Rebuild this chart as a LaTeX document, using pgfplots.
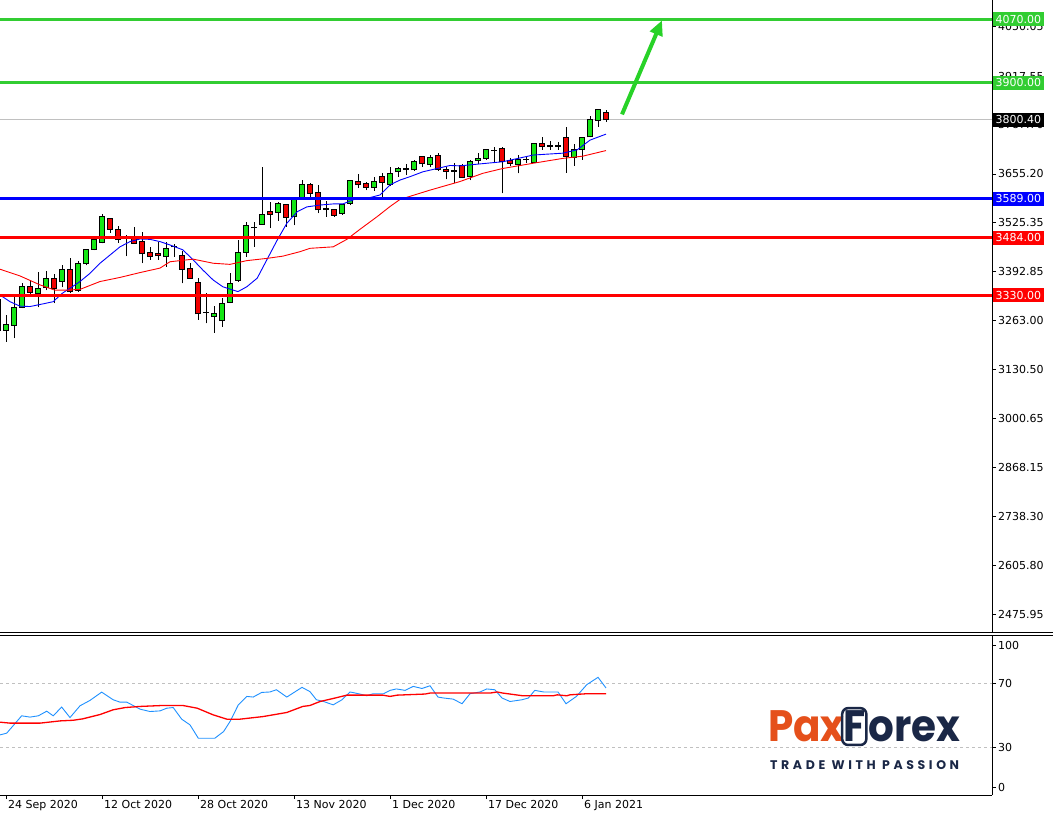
\documentclass[border=0pt]{standalone}
\usepackage{fontspec}
\setmainfont{DejaVu Sans}
\newfontfamily\logofont{Poppins}
\newfontfamily\tagfont{Poppins}[LetterSpace=29]
\usepackage{graphicx}
\usepackage{pgfplots}
\usepackage{pgfplotstable}
\pgfplotsset{compat=1.18}
\usetikzlibrary{arrows.meta}
\definecolor{lvlgreen}{RGB}{50,205,50}
\definecolor{cgreen}{RGB}{20,230,20}
\definecolor{cred}{RGB}{240,0,0}
\definecolor{rsiblue}{RGB}{30,144,255}
\definecolor{silver}{RGB}{192,192,192}
\definecolor{pxorange}{RGB}{229,80,27}
\definecolor{pxnavy}{RGB}{26,39,70}
\definecolor{arrowgreen}{RGB}{40,210,40}
\newcommand\axfont{\fontsize{11bp}{13bp}\selectfont}
\pgfplotsset{candle/.style={forget plot, only marks, mark size=0pt, mark options={draw=none, fill=none},
  error bars/.cd, y dir=plus, y explicit, error mark=none}}

% green (bullish) candles: index open high low close
\pgfplotstableread{
i o h l c
0 3237 3277 3206 3253
1 3250 3325 3215 3298
2 3298 3363 3296 3355
4 3336 3393 3298 3347
5 3350 3395 3344 3376
7 3367 3411 3352 3400
9 3343 3423 3340 3416
10 3414 3455 3410 3453
11 3453 3489 3451 3480
12 3471 3548 3469 3541
20 3434 3474 3407 3456
26 3273 3301 3230 3282
27 3262 3322 3246 3307
28 3311 3389 3309 3362
29 3370 3478 3367 3445
30 3445 3527 3434 3516
32 3520 3675 3520 3547
34 3553 3581 3530 3577
36 3541 3590 3518 3586
37 3590 3639 3588 3628
42 3550 3576 3546 3574
43 3577 3640 3572 3639
46 3620 3648 3610 3635
48 3627 3675 3623 3657
49 3661 3675 3648 3670
51 3666 3692 3664 3688
53 3681 3706 3673 3700
58 3648 3693 3639 3690
59 3691 3711 3682 3697
60 3697 3722 3694 3720
64 3681 3706 3657 3693
66 3687 3738 3686 3736
71 3700 3736 3677 3722
72 3722 3755 3693 3753
73 3755 3811 3753 3800
74 3798 3829 3782 3829
}\gc
% red (bearish) candles
\pgfplotstableread{
i o h l c
-1 3318 3322 3206 3237
3 3355 3371 3331 3338
6 3376 3387 3309 3347
8 3400 3429 3335 3340
13 3536 3538 3498 3507
14 3507 3517 3471 3480
16 3482 3514 3468 3470
17 3474 3501 3416 3441
18 3444 3459 3425 3435
19 3443 3474 3425 3436
22 3438 3450 3362 3400
23 3403 3416 3376 3376
24 3364 3376 3264 3280
33 3556 3581 3510 3547
35 3574 3576 3514 3539
38 3628 3630 3590 3603
39 3606 3626 3550 3559
41 3559 3560 3540 3545
44 3636 3655 3617 3627
45 3630 3635 3612 3620
47 3648 3657 3590 3632
52 3702 3703 3675 3682
54 3704 3712 3664 3668
55 3668 3675 3641 3662
57 3679 3682 3644 3646
62 3724 3728 3603 3688
63 3691 3697 3676 3684
67 3736 3753 3720 3730
70 3753 3780 3659 3703
75 3821 3827 3795 3800.4
}\rc
% doji candles
\pgfplotstableread{
i o h l c
15 3482 3492 3435 3484
21 3460 3468 3434 3461
25 3284 3337 3255 3285
31 3511 3527 3460 3512
40 3561 3584 3541 3562
50 3668 3682 3652 3669
56 3663 3684 3630 3664
61 3718 3728 3684 3719
65 3693 3703 3685 3694
68 3730 3744 3720 3731
69 3730 3740 3720 3731
}\dc

\begin{document}
\begin{tikzpicture}
\begin{axis}[
  at={(0,180bp)}, anchor=south west, scale only axis,
  width=992bp, height=633bp,
  xmin=-0.75, xmax=123.25, ymin=2425.08, ymax=4121.52,
  axis x line=none, axis y line*=right,
  axis line style={black, line width=1bp, -},
  ytick={2475.95,2605.80,2738.30,2868.15,3000.65,3130.50,3263.00,3392.85,3525.35,3655.20,3787.70,3917.55,4050.05},
  yticklabels={2475.95,2605.80,2738.30,2868.15,3000.65,3130.50,3263.00,3392.85,3525.35,3655.20,3787.70,3917.55,4050.05},
  tick align=outside, major tick length=4bp,
  ytick style={black, line width=0.8bp},
  yticklabel style={font=\axfont, anchor=west, inner sep=0pt, xshift=2bp},
  clip mode=individual,
]
% current price line
\addplot[silver, line width=0.8bp] coordinates {(-0.75,3800.4) (123.25,3800.4)};
% wicks
\addplot[candle, error bar style={black, line width=1bp}]
  table[x=i, y=l, y error plus expr=\thisrow{h}-\thisrow{l}] {\gc};
\addplot[candle, error bar style={black, line width=1bp}]
  table[x=i, y=l, y error plus expr=\thisrow{h}-\thisrow{l}] {\rc};
\addplot[candle, error bar style={black, line width=1bp}]
  table[x=i, y=l, y error plus expr=\thisrow{h}-\thisrow{l}] {\dc};
% body outlines
\addplot[candle, error bar style={black, line width=6bp}]
  table[x=i, y expr=\thisrow{o}-1.34, y error plus expr=\thisrow{c}-\thisrow{o}+2.68] {\gc};
\addplot[candle, error bar style={black, line width=6bp}]
  table[x=i, y expr=\thisrow{c}-1.34, y error plus expr=\thisrow{o}-\thisrow{c}+2.68] {\rc};
\addplot[candle, error bar style={black, line width=6bp}]
  table[x=i, y expr=\thisrow{o}-1.34, y error plus expr=\thisrow{c}-\thisrow{o}+2.68] {\dc};
% body fills
\addplot[candle, error bar style={cgreen, line width=4bp}]
  table[x=i, y expr=\thisrow{o}+1.34, y error plus expr=\thisrow{c}-\thisrow{o}-2.68] {\gc};
\addplot[candle, error bar style={cred, line width=4bp}]
  table[x=i, y expr=\thisrow{c}+1.34, y error plus expr=\thisrow{o}-\thisrow{c}-2.68] {\rc};
% moving averages
\addplot[blue, line width=0.9bp] coordinates {
(-0.75,3331) (0.5,3313) (1.75,3301) (3,3300) (4.6,3307) (5.9,3313) (7,3335) (8,3349)
(9.25,3367) (10.5,3389) (11.75,3416) (13,3438) (14.25,3460) (15.5,3474) (16.75,3481)
(18,3480) (19.25,3474) (20.5,3465) (22.1,3452) (23.4,3425) (24.6,3398) (25.9,3371)
(27.1,3353) (28.4,3344) (29,3340) (30.1,3353) (31.4,3376) (32.6,3425) (33.9,3478)
(35.1,3523) (36.4,3554) (37.6,3567) (39.25,3572) (40.9,3575) (42.1,3575) (43.9,3590)
(45.5,3592) (46.75,3599) (48,3626) (49.25,3639) (50.5,3648) (52.1,3661) (53.9,3670)
(55.5,3678) (56.75,3677) (60.1,3684) (62.1,3688) (65.9,3706) (69.6,3711) (71.4,3720)
(73,3746) (75,3762)};
\addplot[red, line width=0.9bp] coordinates {
(-0.75,3400) (1.75,3382) (4.25,3358) (6.1,3344) (7.6,3344) (9.25,3346) (11.75,3367)
(14.25,3378) (16.75,3391) (19.25,3403) (20.5,3420) (23.4,3427) (25.9,3416) (28,3413)
(30.1,3423) (32.6,3429) (34.6,3435) (36.75,3447) (38,3456) (40.9,3460) (42.6,3480)
(44.25,3507) (46.4,3541) (48,3568) (49.25,3587) (53,3612) (56.75,3635) (59.6,3657)
(62.1,3670) (65.9,3684) (69.6,3697) (72.1,3703) (75,3718)};
% levels
\addplot[lvlgreen, line width=3bp] coordinates {(-0.75,4070) (123.25,4070)};
\addplot[lvlgreen, line width=3bp] coordinates {(-0.75,3900) (123.25,3900)};
\addplot[blue, line width=3.5bp] coordinates {(-0.75,3589) (123.25,3589)};
\addplot[red, line width=3bp] coordinates {(-0.75,3484) (123.25,3484)};
\addplot[red, line width=3bp] coordinates {(-0.75,3330) (123.25,3330)};
% arrow
\draw[arrowgreen, line width=4bp, -{Triangle[length=15bp, width=13bp]}] (axis cs:77,3815) -- (axis cs:82,4067);
\coordinate (L1) at ({rel axis cs:1,0} |- {axis cs:0,4070});
\coordinate (L2) at ({rel axis cs:1,0} |- {axis cs:0,3900});
\coordinate (L3) at ({rel axis cs:1,0} |- {axis cs:0,3800.4});
\coordinate (L4) at ({rel axis cs:1,0} |- {axis cs:0,3589});
\coordinate (L5) at ({rel axis cs:1,0} |- {axis cs:0,3484});
\coordinate (L6) at ({rel axis cs:1,0} |- {axis cs:0,3330});
\end{axis}

\begin{axis}[
  at={(0,18bp)}, anchor=south west, scale only axis,
  width=992bp, height=159bp,
  xmin=-0.75, xmax=123.25, ymin=0, ymax=100,
  axis x line*=bottom, axis y line*=right,
  axis line style={black, line width=1bp, -},
  xtick={0,12,24,36,48,60,72},
  xticklabels={24 Sep 2020,12 Oct 2020,28 Oct 2020,13 Nov 2020,1 Dec 2020,17 Dec 2020,6 Jan 2021},
  ytick={5,30,70,94}, yticklabels={0,30,70,100},
  tick align=outside, major tick length=4bp,
  tick style={black, line width=0.8bp},
  xticklabel style={font=\axfont, anchor=north west, inner sep=0pt, xshift=2bp, yshift=-1bp},
  yticklabel style={font=\axfont, anchor=west, inner sep=0pt, xshift=2bp},
  clip mode=individual,
]
\addplot[silver, line width=0.8bp, dash pattern=on 3bp off 3bp] coordinates {(-0.75,70) (123.25,70)};
\addplot[silver, line width=0.8bp, dash pattern=on 3bp off 3bp] coordinates {(-0.75,30) (123.25,30)};
\addplot[rsiblue, line width=0.9bp] coordinates {
(-0.75,37.8) (0.09,38.9) (1.96,49.8) (3,49.0) (4.04,49.8) (5.09,52.7) (5.9,49.8) (6.96,55.3)
(8,48.7) (9.25,56.1) (10.5,59.5) (11.96,64.7) (13.4,59.9) (14.25,58.4) (15.1,58.4)
(16.75,54.0) (18,52.5) (19.25,52.9) (20.1,54.6) (20.9,55.0) (21.96,47.7) (23,44.1)
(24.04,35.7) (26.1,35.7) (27.2,39.9) (28,46.2) (29.04,56.7) (30.1,62.0) (30.9,61.6)
(31.96,64.5) (33,64.8) (33.8,66.2) (35.1,61.6) (37,67.7) (38,65.0) (38.8,59.9)
(39.7,58.8) (40.9,56.7) (42,59.9) (43,64.8) (44.25,63.5) (45.1,62.4) (45.9,63.7)
(47.2,63.7) (48,65.8) (48.8,66.7) (49.9,65.8) (50.9,68.3) (52,67.0) (53,68.7)
(54,61.6) (54.7,61.0) (55.9,60.3) (57,57.4) (58,63.7) (59.25,64.8) (60.1,66.7)
(61.1,66.2) (62,61.0) (63,58.8) (64.5,59.9) (65.3,61.0) (66.1,65.8) (67.2,64.8)
(69,64.8) (70,57.4) (71.3,62.0) (72.6,69.4) (74,74.0) (75,67.3)};
\addplot[red, line width=1.3bp] coordinates {
(-0.75,45.8) (0.5,45.2) (4.25,45.2) (6.75,46.6) (8.4,47.0) (9.6,47.9) (11.75,50.6)
(13.4,53.6) (14.9,55.0) (16.75,55.7) (19.6,56.3) (22.1,56.3) (23.9,54.6) (25.9,50.4)
(27.6,47.7) (29.25,47.7) (32.1,49.3) (35.1,51.9) (37.1,55.7) (38,56.3) (39.25,58.8)
(40.9,60.7) (42.6,62.8) (47.1,62.8) (48,62.0) (48.9,62.8) (52.4,63.5) (53,64.1)
(60.5,64.1) (61.4,64.8) (62.1,64.1) (63,63.5) (64.6,62.4) (68.4,62.4) (68.9,63.0)
(70.1,62.4) (70.5,63.0) (72.6,63.7) (75,63.7)};
\end{axis}

% panel separator
\draw[black, line width=1bp] (0,180bp) -- (1053bp,180bp);
\draw[black, line width=1bp] (0,177bp) -- (1053bp,177bp);

% level price boxes
\tikzset{lvl/.style={anchor=west, inner xsep=3bp, inner ysep=1.5bp, minimum height=14bp, text=white, font=\axfont, xshift=0.5bp}}
\node[lvl, fill=lvlgreen] at (L1) {4070.00};
\node[lvl, fill=lvlgreen] at (L2) {3900.00};
\node[lvl, fill=black] at (L3) {3800.40};
\node[lvl, fill=blue] at (L4) {3589.00};
\node[lvl, fill=red] at (L5) {3484.00};
\node[lvl, fill=red] at (L6) {3330.00};

% logo
\node[anchor=base west, inner sep=0pt, text=pxorange] (pa) at (768bp,71bp)
  {\scalebox{0.92}[1]{\logofont\bfseries\fontsize{44bp}{44bp}\selectfont Pax}};
\node[anchor=base west, inner xsep=1bp, inner ysep=3bp, draw=pxnavy, line width=2.5bp, rounded corners=6bp, text=pxnavy, xshift=-4bp] (ff) at (pa.base east)
  {\scalebox{0.92}[1]{\logofont\bfseries\fontsize{44bp}{44bp}\selectfont F}};
\node[anchor=base west, inner sep=0pt, text=pxnavy, xshift=0.5bp] at (ff.base east)
  {\scalebox{0.92}[1]{\logofont\bfseries\fontsize{44bp}{44bp}\selectfont orex}};
\node[anchor=base west, inner sep=0pt, text=pxnavy] at (770bp,43bp)
  {\tagfont\bfseries\fontsize{12.5bp}{12.5bp}\selectfont TRADE WITH PASSION};

\pgfresetboundingbox
\path[use as bounding box] (0,0) rectangle (1053bp,813bp);
\end{tikzpicture}
\end{document}
